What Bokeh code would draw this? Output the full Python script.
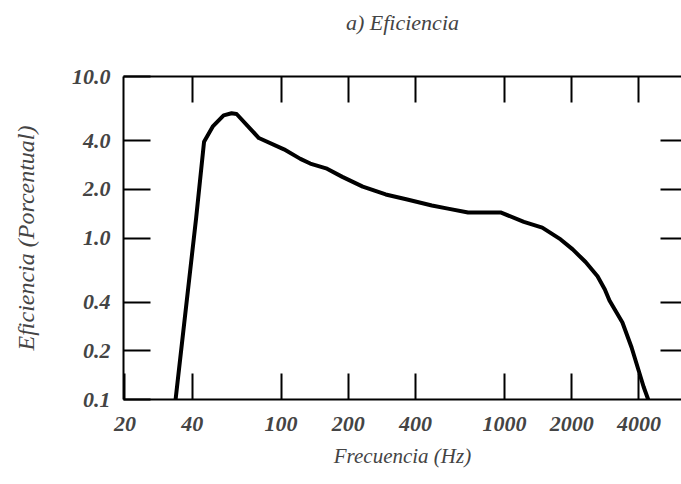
from bokeh.plotting import figure
from bokeh.models import LogAxis, FixedTicker, Range1d, PrintfTickFormatter
from bokeh.embed import file_html
from bokeh.resources import INLINE

# Curve (frequency in Hz, efficiency in percent)
freq_hz = [33.7, 41.7, 45.2, 49.6, 55.3, 60.0, 63.2, 79.5, 103, 122, 135, 159,
           188, 232, 294, 367, 473, 558, 687, 960, 1221, 1476, 1784, 2020,
           2307, 2609, 2814, 2951, 3372, 3707, 4195, 4398]
efficiency_pct = [0.10, 1.35, 3.95, 4.93, 5.75, 5.92, 5.86, 4.16, 3.54, 3.09,
                  2.89, 2.70, 2.39, 2.08, 1.86, 1.73, 1.59, 1.52, 1.44, 1.44,
                  1.26, 1.16, 0.98, 0.85, 0.71, 0.58, 0.48, 0.41, 0.30, 0.21,
                  0.12, 0.10]

x_tick_values = [20, 40, 100, 200, 400, 1000, 2000, 4000]
y_tick_values = [0.1, 0.2, 0.4, 1.0, 2.0, 4.0, 10.0]
inner_x_ticks = [40, 100, 200, 400, 1000, 2000, 4000]
inner_y_ticks = [0.2, 0.4, 1.0, 2.0, 4.0]

title_text = "a) Eficiencia"
FONT = "Liberation Serif"

p = figure(width=681, height=484, x_axis_type="log", y_axis_type="log",
           x_range=Range1d(19.7, 6200), y_range=Range1d(0.1, 10),
           output_backend="svg", toolbar_location=None,
           min_border_left=123, min_border_right=0,
           min_border_top=76, min_border_bottom=85)

p.outline_line_color = None
p.xgrid.visible = False
p.ygrid.visible = False
p.background_fill_color = "white"
p.border_fill_color = "white"

p.line(freq_hz, efficiency_pct, line_width=4, line_color="black",
       line_join="round", line_cap="round")

# bottom axis
xa = p.xaxis[0]
xa.ticker = FixedTicker(ticks=x_tick_values)
xa.formatter = PrintfTickFormatter(format="%d")
xa.major_tick_in = 26
xa.major_tick_out = 0
xa.minor_tick_line_color = None
xa.axis_line_width = 2
xa.major_tick_line_width = 2
xa.major_label_standoff = 17
xa.major_label_text_font = FONT
xa.major_label_text_font_style = "bold italic"
xa.major_label_text_font_size = "22px"
xa.axis_label = "Frecuencia (Hz)"
xa.axis_label_text_font = FONT
xa.axis_label_text_font_style = "italic"
xa.axis_label_text_font_size = "21px"
xa.axis_label_standoff = 10

# left axis
ya = p.yaxis[0]
ya.ticker = FixedTicker(ticks=y_tick_values)
ya.formatter = PrintfTickFormatter(format="%.1f")
ya.major_tick_in = 27
ya.major_tick_out = 0
ya.minor_tick_line_color = None
ya.axis_line_width = 2
ya.major_tick_line_width = 2
ya.major_label_standoff = 13
ya.major_label_text_font = FONT
ya.major_label_text_font_style = "bold italic"
ya.major_label_text_font_size = "22px"
ya.axis_label = "Eficiencia (Porcentual)"
ya.axis_label_text_font = FONT
ya.axis_label_text_font_style = "italic"
ya.axis_label_text_font_size = "24px"
ya.axis_label_standoff = 30

# top axis (ticks only; its label serves as the chart title)
top = LogAxis(ticker=FixedTicker(ticks=inner_x_ticks), major_tick_in=26,
              major_tick_out=0, minor_tick_line_color=None,
              axis_line_width=2, major_tick_line_width=2,
              major_label_text_font_size="0px", major_label_standoff=0,
              axis_label=title_text, axis_label_text_font=FONT,
              axis_label_text_font_style="italic",
              axis_label_text_font_size="22px", axis_label_standoff=42)
p.add_layout(top, "above")

# right axis (ticks only)
right = LogAxis(ticker=FixedTicker(ticks=inner_y_ticks), major_tick_in=21,
                major_tick_out=0, minor_tick_line_color=None,
                axis_line_color=None, major_tick_line_width=2,
                major_label_text_font_size="0px", major_label_standoff=0)
p.add_layout(right, "right")

open("out.html", "w").write(file_html(p, INLINE))
